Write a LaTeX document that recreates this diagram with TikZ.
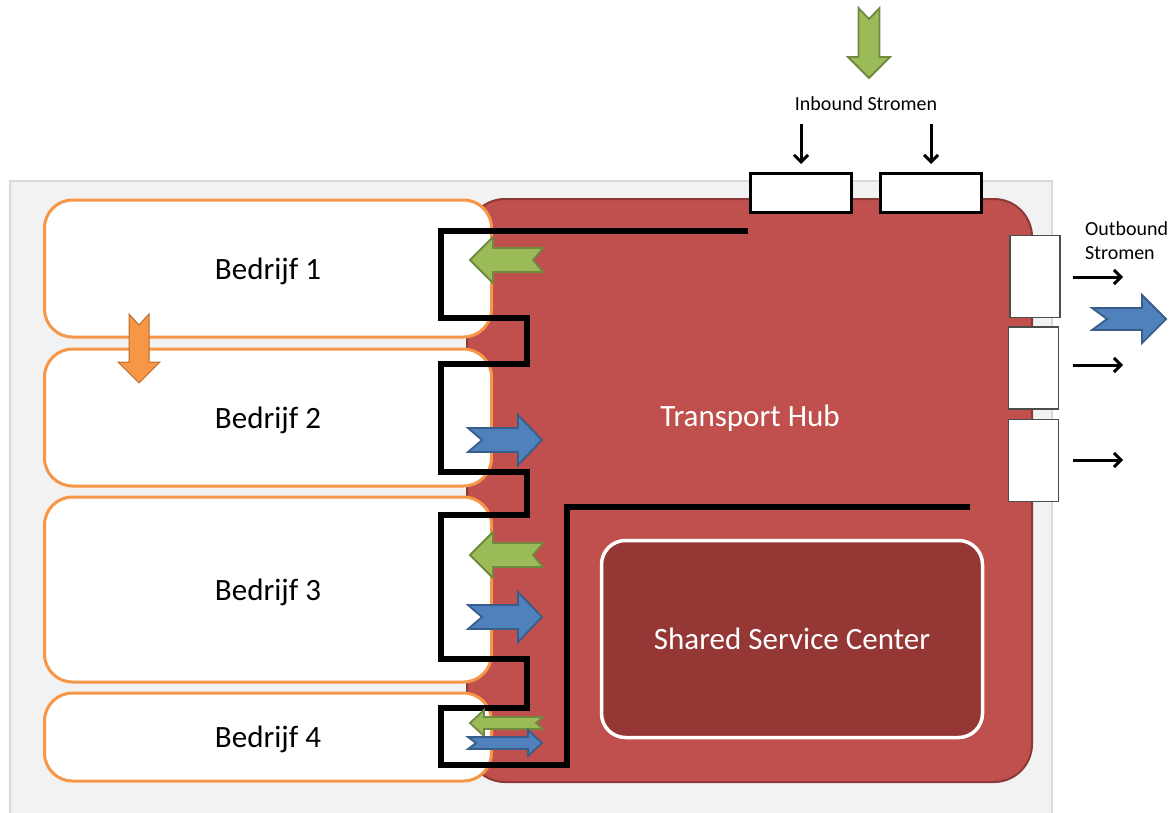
\documentclass[tikz,border=0pt]{standalone}
\usepackage{fontspec}
\setmainfont{Carlito}
\usetikzlibrary{arrows.meta}
\definecolor{bggray}{HTML}{F2F2F2}
\definecolor{bgline}{HTML}{D9D9D9}
\definecolor{hubred}{HTML}{C0504D}
\definecolor{hubline}{HTML}{8C3836}
\definecolor{sscred}{HTML}{953735}
\definecolor{orline}{HTML}{F79646}
\definecolor{orfill}{HTML}{F79646}
\definecolor{ordark}{HTML}{B66D31}
\definecolor{grfill}{HTML}{9BBB59}
\definecolor{grline}{HTML}{71893F}
\definecolor{blfill}{HTML}{4F81BD}
\definecolor{blline}{HTML}{385D8A}
\newcommand{\ArrR}[8]{\draw[#8] (#1,#3-#5) -- (#2-#6,#3-#5) -- (#2-#6,#3-#4) -- (#2,#3) -- (#2-#6,#3+#4) -- (#2-#6,#3+#5) -- (#1,#3+#5) -- (#1+#7,#3) -- cycle;}
\newcommand{\ArrL}[8]{\draw[#8] (#2,#3-#5) -- (#1+#6,#3-#5) -- (#1+#6,#3-#4) -- (#1,#3) -- (#1+#6,#3+#4) -- (#1+#6,#3+#5) -- (#2,#3+#5) -- (#2-#7,#3) -- cycle;}
\newcommand{\ArrD}[8]{\draw[#8] (#3-#5,#1) -- (#3-#5,#2-#6) -- (#3-#4,#2-#6) -- (#3,#2) -- (#3+#4,#2-#6) -- (#3+#5,#2-#6) -- (#3+#5,#1) -- (#3,#1+#7) -- cycle;}
\tikzset{
  company/.style={draw=orline, line width=3pt, fill=white, rounded corners=28pt, font=\fontsize{31}{36}\selectfont, inner sep=0pt, text depth=0pt, minimum width=447pt},
  hub/.style={draw=hubline, line width=2pt, fill=hubred, rounded corners=38pt, inner sep=0pt, minimum width=565pt, minimum height=583pt},
  ssc/.style={draw=white, line width=3.5pt, fill=sscred, rounded corners=24pt, inner sep=0pt, minimum width=381pt, minimum height=197pt, text=white, font=\fontsize{31}{36}\selectfont},
  inbox/.style={draw=black, line width=3pt, fill=white, inner sep=0pt, minimum width=101pt, minimum height=39pt},
  outbox/.style={draw=black!70, line width=1.3pt, fill=white, inner sep=0pt, minimum width=50pt, minimum height=82pt},
  route/.style={draw=black, line width=5.5pt},
  smallarrow/.style={draw=black, line width=3pt, -{Straight Barb[length=7pt,width=14pt,line width=3pt]}},
  label/.style={font=\fontsize{20}{24}\selectfont, inner sep=0pt},
  garrow/.style={fill=grfill, draw=grline, line width=1.8pt, line join=miter},
  barrow/.style={fill=blfill, draw=blline, line width=1.8pt, line join=miter},
  oarrow/.style={fill=orfill, draw=ordark, line width=1pt, line join=miter},
}
\begin{document}
\begin{tikzpicture}[x=1pt,y=-1pt]
\useasboundingbox (0,0) rectangle (1174,812);
% background panel
\fill[bggray] (10,181) rectangle (1052,830);
\draw[bgline, line width=2.5pt] (10,830) -- (10,181) -- (1052,181) -- (1052,830);
% transport hub
\node[hub] (hub) at (749.5,490.5) {};
\node[text=white, font=\fontsize{31}{36}\selectfont] (hubtext) at (750,418) {Transport Hub};
% companies
\node[company, minimum height=137pt] (b1) at (268,268.5) {Bedrijf 1};
\node[company, minimum height=137pt] (b2) at (268,417.5) {Bedrijf 2};
\node[company, minimum height=185pt] (b3) at (268,589.5) {Bedrijf 3};
\node[company, minimum height=88pt] (b4) at (268,737) {Bedrijf 4};
% shared service center
\node[ssc] (ssc) at (792,639) {Shared Service Center};
% inbound
\node[label] (inlabel) at (866,104) {Inbound Stromen};
\node[inbox] (in1) at (801,193) {};
\node[inbox] (in2) at (931,193) {};
\coordinate (ia1) at (801,124);
\coordinate (ia2) at (931,124);
\draw[smallarrow] (ia1) -- ([yshift=8pt]in1.north);
\draw[smallarrow] (ia2) -- ([yshift=8pt]in2.north);
% outbound
\node[label, anchor=west, align=left] (outlabel) at (1085,241) {Outbound\\Stromen};
\node[outbox] (o1) at (1035,276.5) {};
\node[outbox] (o2) at (1033.5,368) {};
\node[outbox] (o3) at (1033.5,460.5) {};
\coordinate (oa1) at (1073,277);
\coordinate (oa2) at (1073,365);
\coordinate (oa3) at (1073,460);
\draw[smallarrow] (oa1) -- ++(50,0);
\draw[smallarrow] (oa2) -- ++(50,0);
\draw[smallarrow] (oa3) -- ++(50,0);
% route
\draw[route] (748,231) -- (441,231) -- (441,318) -- (527,318) -- (527,364) -- (441,364) -- (441,472) -- (527,472) -- (527,515) -- (441,515) -- (441,659) -- (527,659) -- (527,708) -- (441,708) -- (441,765) -- (567,765) -- (567,507) -- (970,507);
% flow arrows
\ArrL{470}{543}{260}{23}{12}{23}{10}{garrow}
\ArrR{468}{542}{440}{25}{12}{24}{14}{barrow}
\ArrL{470}{543}{555}{23}{12}{23}{10}{garrow}
\ArrR{468}{542}{617}{25}{12}{24}{14}{barrow}
\ArrL{470}{543}{723}{13}{6}{14}{7}{garrow}
\ArrR{468}{542}{743}{13}{6}{14}{8}{barrow}
\ArrR{1092}{1166}{319}{24}{11}{24}{15}{barrow}
\ArrD{8}{78}{869}{21}{10.5}{21}{11}{garrow}
\ArrD{314}{383}{139}{21}{10}{21}{11}{oarrow}
\end{tikzpicture}
\end{document}
